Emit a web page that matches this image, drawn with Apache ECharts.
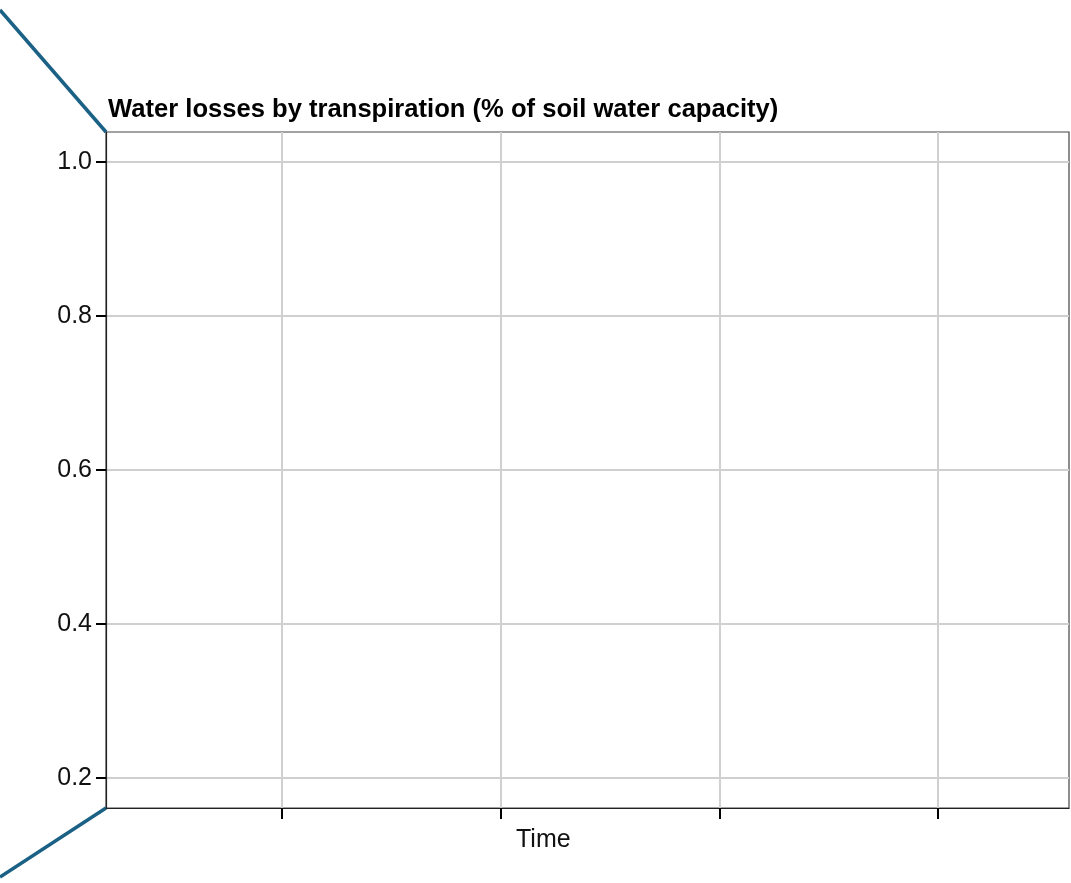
<!DOCTYPE html>
<html><head><meta charset="utf-8">
<script src="https://cdn.jsdelivr.net/npm/echarts@6/dist/echarts.min.js"></script>
<style>html,body{margin:0;padding:0;background:#fff}#c{width:1071px;height:883px}</style>
</head><body><div id="c"></div>
<script>
const titleText = 'Water losses by transpiration (% of soil water capacity)';
const xName = 'Time';
const xTicks = [1, 2, 3, 4];
const xRange = [0.195, 4.598];
const yTicks = [0.2, 0.4, 0.6, 0.8, 1.0];
const yRange = [0.161, 1.039];
const seriesValues = [];

const chart = echarts.init(document.getElementById('c'));
const font = 'Liberation Sans, Arial, Helvetica, sans-serif';
chart.setOption({
  animation: false,
  grid: {left: 106, top: 132, right: 2, bottom: 75, show: true, borderColor: '#444', borderWidth: 1.2, backgroundColor: '#fff'},
  title: {text: titleText, left: 103, top: 92, textStyle: {fontFamily: font, fontSize: 25.6, fontWeight: 'bold', color: '#000'}},
  xAxis: {
    type: 'value', min: xRange[0], max: xRange[1],
    axisLine: {show: true, lineStyle: {color: '#222', width: 1.2}},
    axisTick: {show: true, customValues: xTicks, length: 11, lineStyle: {color: '#000', width: 2}},
    axisLabel: {show: false, customValues: xTicks},
    splitLine: {show: true, lineStyle: {color: '#d0d0d0', width: 2}}
  },
  yAxis: {
    type: 'value', min: yRange[0], max: yRange[1],
    axisLine: {show: true, lineStyle: {color: '#222', width: 1.2}},
    axisTick: {show: true, customValues: yTicks, length: 10, lineStyle: {color: '#000', width: 2}},
    axisLabel: {show: true, customValues: yTicks, margin: 14, fontFamily: font, fontSize: 25, color: '#111', formatter: v => v.toFixed(1)},
    splitLine: {show: true, lineStyle: {color: '#d0d0d0', width: 2}}
  },
  series: [{type: 'line', data: seriesValues}],
  graphic: [
    {type: 'text', left: 516, top: 828, style: {text: xName, fontFamily: font, fontSize: 25, fill: '#111'}},
    {type: 'line', shape: {x1: 0, y1: 10, x2: 106, y2: 132}, style: {stroke: '#1a6185', lineWidth: 3.5}},
    {type: 'line', shape: {x1: 106, y1: 808, x2: 0, y2: 877}, style: {stroke: '#1a6185', lineWidth: 3.5}}
  ]
});
</script></body></html>
